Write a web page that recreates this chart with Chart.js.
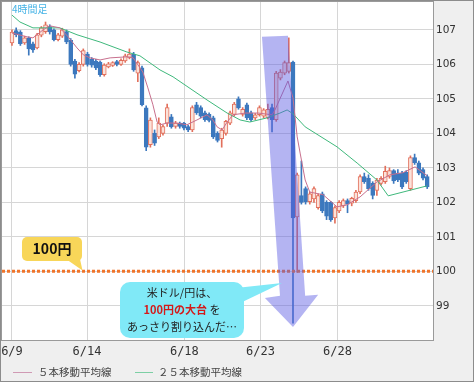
<!DOCTYPE html>
<html>
<head>
<meta charset="utf-8">
<script src="https://cdn.jsdelivr.net/npm/chart.js@4.4.0/dist/chart.umd.min.js"></script>
<style>
  html, body { margin: 0; padding: 0; background: #fff; }
  #wrap { width: 476px; height: 383px; }
</style>
</head>
<body>
<div id="wrap"><canvas id="fxChart"></canvas></div>
<script>
// 4時間足 USD/JPY  (bar index 0..99)
const open  = [106.62,106.98,106.94,106.62,106.77,106.60,106.48,106.85,106.95,107.10,
               107.00,106.72,106.82,106.95,106.70,106.10,105.82,106.00,106.30,106.15,
               106.10,106.07,105.70,105.93,105.97,106.08,106.00,106.10,106.20,106.30,
               105.75,105.90,104.74,103.67,104.01,103.90,104.00,104.30,104.48,104.20,
               104.30,104.30,104.20,104.10,104.83,104.75,104.60,104.55,104.45,104.00,
               103.85,104.00,104.30,104.55,105.00,104.55,104.83,104.60,104.45,104.54,
               104.50,104.45,104.75,104.40,105.60,105.75,105.80,106.07,101.58,102.20,
               102.40,102.02,102.10,101.85,102.25,102.00,102.00,101.55,101.75,101.90,
               102.05,101.98,102.05,102.30,102.75,102.70,102.55,102.35,102.55,102.60,
               102.75,102.92,102.85,102.85,102.88,102.40,103.30,103.15,102.95,102.75];
const high  = [107.00,107.06,106.98,106.82,106.80,106.65,106.90,107.10,107.23,107.15,
               107.03,106.90,107.05,107.00,106.75,106.15,106.05,106.45,106.35,106.20,
               106.15,106.10,106.02,106.06,106.08,106.12,106.16,106.30,106.45,106.35,
               106.10,105.95,104.80,104.45,104.10,104.45,104.25,104.85,104.55,104.35,
               104.33,104.32,104.24,104.80,104.90,104.80,104.65,104.60,104.50,104.05,
               104.15,104.38,104.65,104.90,105.06,104.75,104.88,104.65,104.58,104.80,
               104.72,104.85,104.85,105.80,105.85,106.10,106.77,106.10,102.85,103.20,
               102.45,102.30,102.45,102.25,102.30,102.05,102.03,101.90,102.05,102.10,
               102.10,102.15,102.35,102.80,102.85,102.80,102.60,102.70,102.75,103.05,
               103.00,102.95,102.95,102.90,102.92,103.35,103.40,103.20,103.00,102.80];
const low   = [106.55,106.80,106.55,106.58,106.27,106.35,106.45,106.80,106.90,106.88,
               106.68,106.68,106.78,106.60,105.95,105.60,105.78,105.95,105.95,105.92,
               105.85,105.65,105.66,105.90,105.94,105.96,105.97,106.06,106.16,105.80,
               105.50,104.80,103.50,103.60,103.65,103.85,103.95,104.20,104.15,104.15,
               104.15,104.10,104.05,104.05,104.55,104.45,104.35,104.33,103.85,103.75,
               103.60,103.95,104.25,104.50,104.70,104.50,104.40,104.35,104.40,104.50,
               104.45,104.42,104.04,104.35,105.55,105.70,105.75,98.50,99.97,101.95,
               101.95,101.95,102.00,101.80,101.70,101.50,101.45,101.40,101.70,101.85,
               101.70,101.90,102.00,102.25,102.55,102.35,102.10,102.20,102.50,102.55,
               102.70,102.55,102.60,102.40,102.55,102.35,103.10,102.80,102.65,102.40];
const close = [106.94,106.86,106.60,106.77,106.45,106.42,106.86,107.06,107.15,106.94,
               106.72,106.86,107.00,106.65,106.00,105.72,106.00,106.40,106.00,105.98,
               105.90,105.70,105.98,106.02,106.05,106.00,106.12,106.25,106.30,105.84,
               106.05,104.83,103.60,104.39,103.72,104.30,104.20,104.75,104.19,104.30,
               104.20,104.15,104.10,104.75,104.60,104.50,104.40,104.38,103.90,103.80,
               104.10,104.35,104.60,104.85,104.74,104.70,104.45,104.40,104.54,104.75,
               104.68,104.70,104.40,105.75,105.78,106.05,106.05,101.55,102.80,102.00,
               102.02,102.25,102.40,102.20,101.75,101.60,101.50,101.85,102.00,102.05,
               101.95,102.12,102.30,102.75,102.60,102.40,102.20,102.65,102.70,102.90,
               102.92,102.62,102.65,102.45,102.60,103.30,103.15,102.85,102.70,102.45];

// moving averages at the bends of each line
const ma5Pos  = [0,3.6,5,7.4,9,11.4,13.4,15.5,17,18.6,21,23.4,27.4,28.9,31.2,32.4,33.6,34.6,35.3,37,
                 39.3,41.7,44.1,46.5,47.9,48.9,50.1,51.3,52.7,55.6,58.7,62,62.7,65.8,67,68,68.7,69.9,
                 71,74.2,77.5,79.9,83,87,90.1,93.2,96.1,99];
const ma5Val  = [106.91,106.80,106.77,107.00,107.12,107.06,106.80,106.48,106.28,106.19,106.13,106.19,
                 106.22,106.19,105.78,105.32,104.83,104.33,104.25,104.30,104.30,104.25,104.39,104.54,
                 104.39,104.19,104.10,104.33,104.54,104.59,104.59,104.54,104.68,105.52,105.03,103.90,
                 103.43,102.65,102.30,102.22,101.87,101.93,102.16,102.59,102.80,102.86,103.03,102.77];
const ma25Pos = [0,1.9,5,11.4,15.5,21,27.4,30.5,35.3,38.4,46.5,51.3,54.4,56.7,60.8,63.9,65.6,67,69.9,
                 77.5,82.3,87,89.7,99];
const ma25Val = [107.43,107.23,107.06,107.06,106.86,106.65,106.36,106.25,105.84,105.64,104.97,104.59,
                 104.39,104.33,104.45,104.59,104.68,104.57,104.19,103.61,103.14,102.65,102.19,102.48];

const tickPos    = [0, 17.9, 41.1, 59.25, 77.6];
const tickLabels = ['6/9', '6/14', '6/18', '6/23', '6/28'];
const yTicks     = [99, 100, 101, 102, 103, 104, 105, 106, 107];
const level      = 100;

const X_MIN = -2.38, X_MAX = 100.38;
const Y_MIN = 98.01, Y_MAX = 107.81;

const UP = '#e2705c', UP_FILL = '#fbe2da', DOWN = '#3c78be';
const isUp = i => close[i] >= open[i];

// 矢印 (index, price)
const arrow = [[59.6,106.8],[65.8,106.83],[69.9,99.29],[73.0,99.32],[67.0,98.39],[60.3,99.23],[63.9,99.29]];

const bgPlugin = {
    id: 'bg',
    beforeDraw(c) {
        const { ctx, width, height, chartArea: a } = c;
        ctx.save();
        ctx.fillStyle = '#fff';
        ctx.fillRect(0, 0, width, height);
        ctx.fillStyle = '#efefef';
        ctx.fillRect(1, 1, 473, 381);
        ctx.fillStyle = '#fff';
        ctx.fillRect(a.left, a.top, a.right - a.left, a.bottom - a.top);
        ctx.restore();
    },
    afterDraw(c) {
        const { ctx, chartArea: a } = c;
        ctx.save();
        ctx.lineWidth = 1;
        ctx.strokeStyle = '#9a9a9a';
        ctx.strokeRect(a.left - 0.5, a.top - 0.5, a.right - a.left + 1, a.bottom - a.top + 1);
        ctx.strokeStyle = '#8c8c8c';
        ctx.strokeRect(0.5, 0.5, 473, 381);

        // legend
        ctx.font = '10.5px "Noto Sans CJK JP"';
        ctx.textBaseline = 'middle';
        ctx.textAlign = 'left';
        ctx.fillStyle = '#444';
        ctx.strokeStyle = '#d09ab4';
        ctx.beginPath(); ctx.moveTo(13, 372.5); ctx.lineTo(32, 372.5); ctx.stroke();
        ctx.fillText('５本移動平均線', 38, 372);
        ctx.strokeStyle = '#7ccfa4';
        ctx.beginPath(); ctx.moveTo(135, 372.5); ctx.lineTo(153, 372.5); ctx.stroke();
        ctx.fillText('２５本移動平均線', 158, 372);
        ctx.restore();
    }
};

function roundBox(ctx, x, y, w, h, r) {
    ctx.beginPath();
    ctx.roundRect(x, y, w, h, r);
    ctx.fill();
}

const notePlugin = {
    id: 'notes',
    afterDatasetsDraw(c) {
        const { ctx } = c;
        const sx = c.scales.x, sy = c.scales.y;
        ctx.save();

        // big translucent arrow
        ctx.fillStyle = 'rgba(92, 92, 226, 0.46)';
        ctx.beginPath();
        arrow.forEach(([i, v], k) => {
            const px = sx.getPixelForValue(i), py = sy.getPixelForValue(v);
            k ? ctx.lineTo(px, py) : ctx.moveTo(px, py);
        });
        ctx.closePath();
        ctx.fill();

        // yellow tag
        ctx.fillStyle = '#f8d659';
        roundBox(ctx, 22, 237, 60, 24, 5);
        ctx.beginPath();
        ctx.moveTo(66, 259); ctx.lineTo(80, 259); ctx.lineTo(82.5, 270.5);
        ctx.closePath(); ctx.fill();
        ctx.fillStyle = '#111';
        ctx.font = 'bold 14px "Noto Sans CJK JP"';
        ctx.textAlign = 'center';
        ctx.textBaseline = 'middle';
        ctx.fillText('100円', 52, 249);

        // cyan balloon
        ctx.fillStyle = '#80e9f7';
        roundBox(ctx, 120, 282, 124, 56, 10);
        ctx.beginPath();
        ctx.moveTo(236, 288); ctx.lineTo(282, 283); ctx.lineTo(236, 305);
        ctx.closePath(); ctx.fill();

        ctx.font = '11px "Noto Sans CJK JP"';
        ctx.fillStyle = '#222';
        ctx.fillText('米ドル/円は、', 182, 293);
        ctx.fillText('あっさり割り込んだ…', 182, 327);
        const bold = 'bold 11px "Noto Sans CJK JP"';
        ctx.font = bold;
        const w1 = ctx.measureText('100円の大台').width;
        ctx.font = '11px "Noto Sans CJK JP"';
        const w2 = ctx.measureText(' を').width;
        let x0 = 182 - (w1 + w2) / 2;
        ctx.textAlign = 'left';
        ctx.font = bold;
        ctx.fillStyle = '#d41a1a';
        ctx.fillText('100円の大台', x0, 310);
        ctx.font = '11px "Noto Sans CJK JP"';
        ctx.fillStyle = '#222';
        ctx.fillText(' を', x0 + w1, 310);

        // 4時間足
        ctx.font = '10px "Noto Sans CJK JP"';
        ctx.fillStyle = '#45b3e6';
        ctx.fillText('4時間足', 12, 9);
        ctx.restore();
    }
};

const ctx = document.getElementById('fxChart').getContext('2d');
const fxChart = new Chart(ctx, {
    type: 'bar',
    data: {
        datasets: [
            {
                type: 'line', label: '5本移動平均線',
                data: ma5Pos.map((p, k) => ({ x: p, y: ma5Val[k] })),
                borderColor: '#c8708e', borderWidth: 1, pointRadius: 0, tension: 0
            },
            {
                type: 'line', label: '25本移動平均線',
                data: ma25Pos.map((p, k) => ({ x: p, y: ma25Val[k] })),
                borderColor: '#3fb97c', borderWidth: 1, pointRadius: 0, tension: 0
            },
            {
                type: 'line', label: '100円',
                data: [{ x: X_MIN, y: level }, { x: X_MAX, y: level }],
                borderColor: '#f0742a', borderWidth: 3, borderDash: [3, 2],
                borderCapStyle: 'butt', pointRadius: 0
            },
            {
                label: 'body',
                data: open.map((o, i) => ({ x: i, y: [o, close[i]] })),
                backgroundColor: c => isUp(c.dataIndex) ? UP_FILL : DOWN,
                borderColor: c => isUp(c.dataIndex) ? UP : DOWN,
                borderWidth: 1, borderSkipped: false,
                barThickness: 4, minBarLength: 1, grouped: false
            },
            {
                label: 'wick',
                data: low.map((l, i) => ({ x: i, y: [l, high[i]] })),
                backgroundColor: c => isUp(c.dataIndex) ? UP : DOWN,
                borderWidth: 0, barThickness: 1, grouped: false
            }
        ]
    },
    options: {
        responsive: true,
        maintainAspectRatio: false,
        animation: false,
        devicePixelRatio: 1,
        layout: { padding: { left: 2, top: 2, right: 0, bottom: 0 } },
        plugins: { legend: { display: false }, tooltip: { enabled: false } },
        scales: {
            x: {
                type: 'linear', min: X_MIN, max: X_MAX,
                offset: false,
                grid: { color: '#d6d6d6', offset: false, drawTicks: false },
                border: { display: false },
                afterBuildTicks: s => { s.ticks = tickPos.map(v => ({ value: v })); },
                afterFit: s => { s.height = 43; s.paddingLeft = 0; s.paddingRight = 0; },
                ticks: {
                    autoSkip: false, maxRotation: 0, padding: 5, color: '#333',
                    font: { family: 'DejaVu Sans Mono', size: 12 },
                    callback: (v, i) => tickLabels[i]
                }
            },
            y: {
                type: 'linear', position: 'right', min: Y_MIN, max: Y_MAX,
                grid: { color: '#d6d6d6', drawTicks: false },
                border: { display: false },
                afterBuildTicks: s => { s.ticks = yTicks.map(v => ({ value: v })); },
                afterFit: s => { s.width = 43; s.paddingTop = 0; s.paddingBottom = 0; },
                ticks: {
                    padding: 3, color: '#333',
                    font: { family: 'DejaVu Sans', size: 10.5 },
                    callback: v => String(v)
                }
            }
        }
    },
    plugins: [bgPlugin, notePlugin]
});
</script>
</body>
</html>
